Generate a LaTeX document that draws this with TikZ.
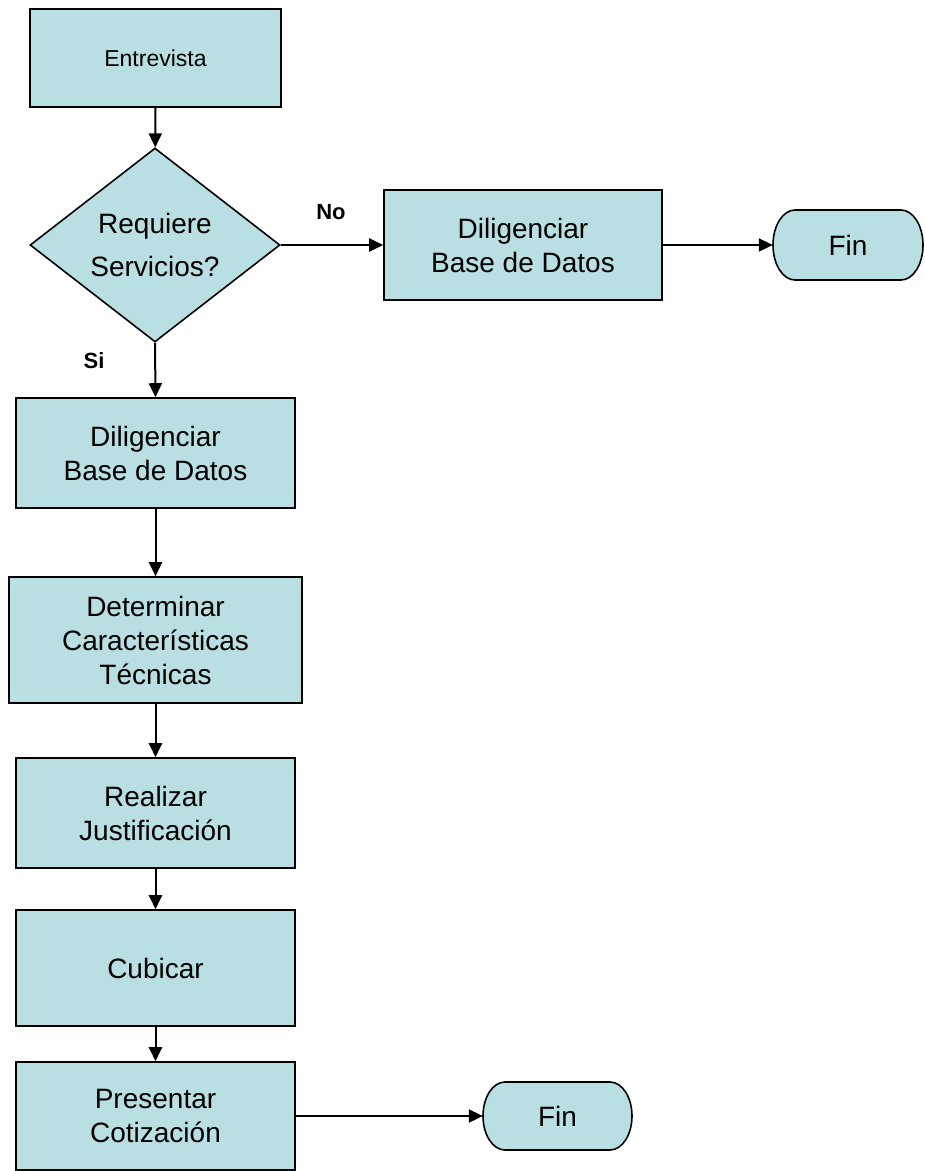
\documentclass[tikz,border=0pt]{standalone}
\usepackage{fontspec}
\setmainfont{Liberation Sans}
\usetikzlibrary{shapes.geometric,arrows.meta}
\definecolor{boxfill}{RGB}{185,223,227}
\tikzset{
  x=1pt,y=-1pt,
  procbox/.style={draw=black,line width=1.6pt,fill=boxfill,rectangle,inner sep=0pt,align=center,
    font=\fontsize{28}{34}\selectfont},
  decbox/.style={draw=black,line width=1.6pt,fill=boxfill,diamond,inner sep=0pt,align=center,
    minimum width=250pt,minimum height=194pt,font=\fontsize{28}{43}\selectfont},
  finbox/.style={draw=none,fill=none,rectangle,inner sep=0pt,font=\fontsize{28}{34}\selectfont},
  finshape/.style={draw=black,line width=1.6pt,fill=boxfill,line join=round},
  flow/.style={line width=2pt,-{Triangle[length=14pt,width=13pt]}},
  lbl/.style={font=\fontsize{22}{26}\selectfont\bfseries,inner sep=0pt}
}
% #1 left x, #2 right x, #3 top y, #4 bottom y, #5 half height (pt)
\newcommand{\finpath}[5]{%
  \path[finshape] ({#1+22},#3) -- ({#2-22},#3)
    arc[start angle=90,end angle=-90,x radius=22pt,y radius=#5pt]
    -- ({#1+22},#4)
    arc[start angle=-90,end angle=-270,x radius=22pt,y radius=#5pt] -- cycle;}
\begin{document}
\begin{tikzpicture}
\useasboundingbox (0,0) rectangle (925,1171);
% main column
\node[procbox,minimum width=251pt,minimum height=98pt,font=\fontsize{23}{28}\selectfont] (entrevista) at (155.5,58) {Entrevista};
\node[decbox] (requiere) at (155,245) {Requiere\\Servicios?};
\node[procbox,minimum width=278pt,minimum height=110pt] (dilig1) at (523,245) {Diligenciar\\Base de Datos};
\finpath{773}{923}{210}{280}{35}
\node[finbox,minimum width=150pt,minimum height=70pt] (fin1) at (848,245) {Fin};
\node[procbox,minimum width=279pt,minimum height=110pt] (dilig2) at (155.5,453) {Diligenciar\\Base de Datos};
\node[procbox,minimum width=293pt,minimum height=126pt] (determinar) at (155.5,640) {Determinar\\Características\\Técnicas};
\node[procbox,minimum width=279pt,minimum height=110pt] (realizar) at (155.5,813) {Realizar\\Justificación};
\node[procbox,minimum width=279pt,minimum height=116pt] (cubicar) at (155.5,968) {Cubicar};
\node[procbox,minimum width=279pt,minimum height=108pt] (presentar) at (155.5,1116) {Presentar\\Cotización};
\finpath{483}{632}{1082}{1150}{34}
\node[finbox,minimum width=149pt,minimum height=68pt] (fin2) at (557.5,1116) {Fin};
% labels
\node[lbl] (no) at (331,212) {No};
\node[lbl] (si) at (94,361) {Si};
% connectors
\draw[flow] (entrevista) -- (requiere);
\draw[flow] (requiere.east) -- (dilig1.west);
\draw[flow] (dilig1.east) -- (fin1.west);
\draw[flow] (requiere.south) -- (dilig2.north);
\draw[flow] (dilig2) -- (determinar);
\draw[flow] (determinar) -- (realizar);
\draw[flow] (realizar) -- (cubicar);
\draw[flow] (cubicar) -- (presentar);
\draw[flow] (presentar.east) -- (fin2.west);
\end{tikzpicture}
\end{document}
